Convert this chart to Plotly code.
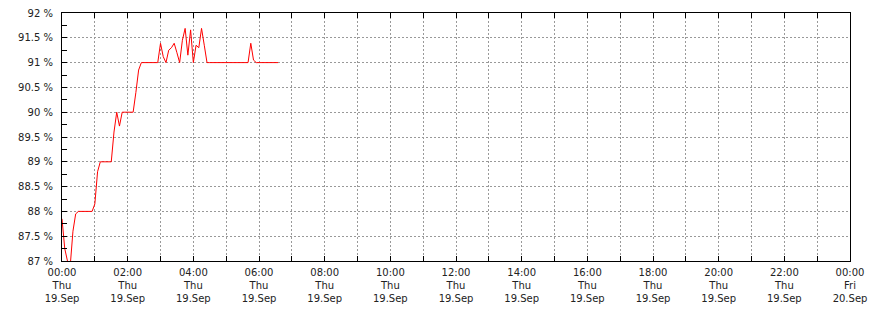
import plotly.graph_objects as go
from datetime import datetime, timedelta

# Data: readings every 5 minutes starting 2024-09-19 00:00
start = "2024-09-19 00:00"
step_minutes = 5
values = [
    87.85, 87.25, 87.0, 86.9, 87.6, 87.95, 88.0, 88.0, 88.0, 88.0,
    88.0, 88.0, 88.15, 88.8, 89.0, 89.0, 89.0, 89.0, 89.0, 89.6,
    90.0, 89.72, 90.0, 90.0, 90.0, 90.0, 90.0, 90.4, 90.85, 91.0,
    91.0, 91.0, 91.0, 91.0, 91.0, 91.0, 91.39, 91.12, 91.0, 91.25,
    91.3, 91.39, 91.2, 91.0, 91.45, 91.69, 91.15, 91.66, 91.0, 91.35,
    91.3, 91.69, 91.35, 91.0, 91.0, 91.0, 91.0, 91.0, 91.0, 91.0,
    91.0, 91.0, 91.0, 91.0, 91.0, 91.0, 91.0, 91.0, 91.0, 91.39,
    91.05, 91.0, 91.0, 91.0, 91.0, 91.0, 91.0, 91.0, 91.0, 91.0,
]

# Axis labels
y_ticks = [87, 87.5, 88, 88.5, 89, 89.5, 90, 90.5, 91, 91.5, 92]
y_labels = ["87 %", "87.5 %", "88 %", "88.5 %", "89 %", "89.5 %", "90 %",
            "90.5 %", "91 %", "91.5 %", "92 %"]
x_hours = list(range(0, 25))
x_label_text = {
    0: "00:00<br>Thu<br>19.Sep", 2: "02:00<br>Thu<br>19.Sep", 4: "04:00<br>Thu<br>19.Sep",
    6: "06:00<br>Thu<br>19.Sep", 8: "08:00<br>Thu<br>19.Sep", 10: "10:00<br>Thu<br>19.Sep",
    12: "12:00<br>Thu<br>19.Sep", 14: "14:00<br>Thu<br>19.Sep", 16: "16:00<br>Thu<br>19.Sep",
    18: "18:00<br>Thu<br>19.Sep", 20: "20:00<br>Thu<br>19.Sep", 22: "22:00<br>Thu<br>19.Sep",
    24: "00:00<br>Fri<br>20.Sep",
}

t0 = datetime.strptime(start, "%Y-%m-%d %H:%M")
times = [t0 + timedelta(minutes=step_minutes * i) for i in range(len(values))]
tickvals = [t0 + timedelta(hours=h) for h in x_hours]
ticktext = [x_label_text.get(h, "") for h in x_hours]

fig = go.Figure()
fig.add_trace(go.Scatter(x=times, y=values, mode="lines",
                         line=dict(color="#ff0000", width=1), hoverinfo="skip"))

font = dict(family="DejaVu Sans", size=10, color="#222222")
fig.update_layout(
    width=870, height=310,
    margin=dict(l=62, r=20, t=13, b=49, autoexpand=False),
    paper_bgcolor="white", plot_bgcolor="white",
    showlegend=False, font=font,
)
fig.update_xaxes(
    range=[t0, t0 + timedelta(hours=24)], automargin=False,
    tickmode="array", tickvals=tickvals, ticktext=ticktext,
    ticks="inside", ticklen=5, tickcolor="black", tickwidth=1,
    showline=True, linecolor="black", linewidth=1, mirror="ticks",
    showgrid=True, gridcolor="#999999", griddash="2px,2px", gridwidth=1,
    tickangle=0, ticklabelstandoff=2, zeroline=False,
)
fig.update_yaxes(
    range=[87, 92], automargin=False,
    tickmode="array", tickvals=y_ticks, ticktext=y_labels,
    ticks="inside", ticklen=0, tickcolor="black",
    showline=True, linecolor="black", linewidth=1, mirror=True,
    showgrid=True, gridcolor="#999999", griddash="2px,2px", gridwidth=1,
    minor=dict(ticks="inside", ticklen=5, tickcolor="black", dtick=0.25, tick0=87,
               showgrid=False),
    ticklabelstandoff=6, zeroline=False,
)

fig.write_html("out.html")
